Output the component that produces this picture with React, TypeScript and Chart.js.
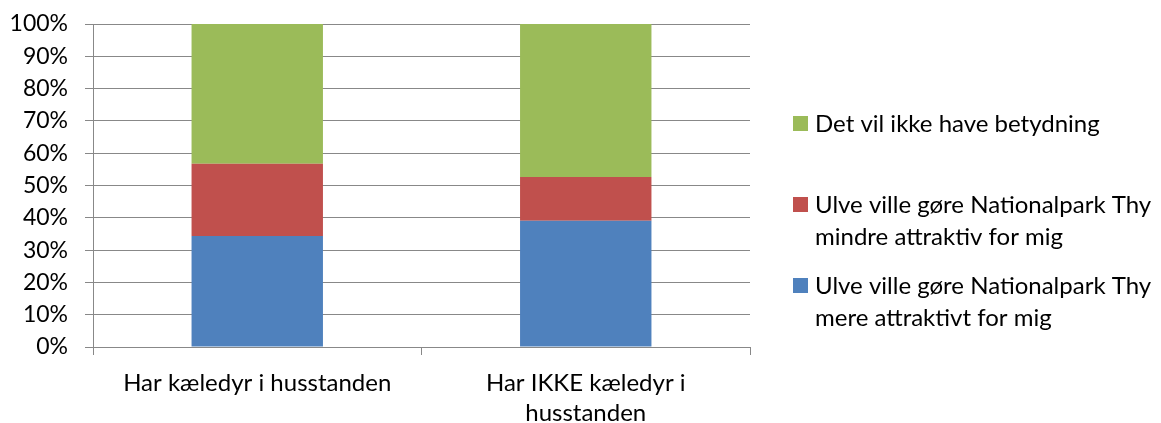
import React, { useEffect, useRef } from "react";
import { Chart, registerables } from "chart.js";

Chart.register(...registerables);

const categories: string[][] = [["Har kæledyr i husstanden"], ["Har IKKE kæledyr i", "husstanden"]];
const mereAttraktivt = [34.4, 39.1];
const mindreAttraktiv = [22.3, 13.5];
const ingenBetydning = [43.3, 47.4];
const seriesNames = [
  "Ulve ville gøre Nationalpark Thy\nmere attraktivt for mig",
  "Ulve ville gøre Nationalpark Thy\nmindre attraktiv for mig",
  "Det vil ikke have betydning",
];
const seriesColors = ["#4F81BD", "#C0504D", "#9BBB59"];
const yTicks = [0, 10, 20, 30, 40, 50, 60, 70, 80, 90, 100];

const FONT = "Lato";
const FONT_SIZE = 24;

const legendPlugin = {
  id: "sideLegend",
  afterDraw(chart: any) {
    const ctx = chart.ctx;
    const ds = chart.data.datasets;
    ctx.save();
    ctx.font = `${FONT_SIZE}px ${FONT}`;
    ctx.textBaseline = "middle";
    const x0 = chart.chartArea.right + 43;
    let y = 123;
    for (let i = ds.length - 1; i >= 0; i--) {
      const lines = String(ds[i].label).split("\n");
      ctx.fillStyle = ds[i].backgroundColor;
      ctx.fillRect(x0, y - 7, 15, 15);
      ctx.fillStyle = "#000";
      lines.forEach((ln: string, k: number) => ctx.fillText(ln, x0 + 22, y + 1 + k * 32));
      y += 81;
    }
    ctx.restore();
  },
};

export default function App() {
  const ref = useRef<HTMLCanvasElement>(null);
  useEffect(() => {
    document.body.style.margin = "0";
    const data = [mereAttraktivt, mindreAttraktiv, ingenBetydning];
    const chart = new Chart(ref.current!, {
      type: "bar",
      data: {
        labels: categories,
        datasets: data.map((d, i) => ({
          label: seriesNames[i],
          data: d,
          backgroundColor: seriesColors[i],
          borderWidth: 0,
          barPercentage: 0.4,
          categoryPercentage: 1,
        })),
      },
      options: {
        animation: false,
        responsive: false,
        maintainAspectRatio: false,
        layout: { padding: { left: 0, top: 24, right: 411, bottom: 0 } },
        plugins: { legend: { display: false }, tooltip: { enabled: false } },
        scales: {
          x: {
            stacked: true,
            grid: { offset: true, drawOnChartArea: false, drawTicks: true, tickLength: 8, color: "#888" },
            border: { color: "#888", width: 1 },
            ticks: { color: "#000", font: { family: FONT, size: FONT_SIZE, lineHeight: 1.25 }, padding: 13, maxRotation: 0 },
            afterFit: (s: any) => { s.height = 76; s.paddingLeft = 0; s.paddingRight = 0; },
          },
          y: {
            stacked: true,
            min: 0,
            max: 100,
            afterBuildTicks: (s: any) => { s.ticks = yTicks.map((v) => ({ value: v })); },
            grid: { color: "#888", tickLength: 8, lineWidth: 1 },
            border: { color: "#888", width: 1 },
            ticks: { color: "#000", font: { family: FONT, size: 23 }, padding: 17, callback: (v: any) => v + "%" },
            afterFit: (s: any) => { s.width = 93; s.paddingTop = 0; s.paddingBottom = 0; },
          },
        },
      },
      plugins: [legendPlugin],
    });
    return () => chart.destroy();
  }, []);
  return (
    <div style={{ width: 1161, height: 423, background: "#fff" }}>
      <canvas ref={ref} width={1161} height={423} />
    </div>
  );
}
